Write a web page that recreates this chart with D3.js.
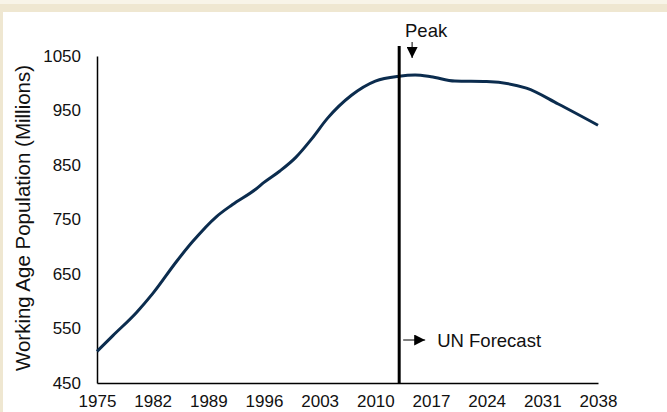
<!DOCTYPE html>
<html>
<head>
<meta charset="utf-8">
<script src="https://cdn.jsdelivr.net/npm/d3@7"></script>
<style>
    body { margin: 0; background: #fff; }
    svg { display: block; font-family: "Liberation Sans", Arial, sans-serif; }
</style>
</head>
<body>
<div id="chart"></div>
<script>
(function() {
    var years = [1975, 1977, 1980, 1982, 1985, 1987, 1990, 1992, 1995, 1996, 1998, 2000,
        2002, 2004, 2007, 2010, 2013, 2015, 2017, 2020, 2024, 2029, 2033, 2038];
    var population = [508, 537, 580, 614, 673, 709, 755, 777, 806, 818, 839, 864,
        898, 936, 978, 1004, 1013, 1015, 1012, 1004, 1003, 991, 962, 923];
    var xTicks = [1975, 1982, 1989, 1996, 2003, 2010, 2017, 2024, 2031, 2038];
    var yTicks = [450, 550, 650, 750, 850, 950, 1050];
    var forecastYear = 2013;
    var peakYear = 2015;

    var width = 667, height = 412;
    var font = "'Liberation Sans', Arial, sans-serif";
    var svg = d3.select("#chart")
        .append("svg")
        .attr("width", width)
        .attr("height", height);

    // beige frame
    svg.append("rect").attr("width", width).attr("height", height).attr("fill", "#efe7d1");
    svg.append("rect").attr("width", width).attr("height", 4).attr("fill", "#f8f4e8");
    svg.append("rect").attr("x", 3).attr("y", 12).attr("width", width - 3).attr("height", height - 12)
        .attr("fill", "#fff");

    var x = d3.scaleLinear().domain([1975, 2038]).range([97, 598]);
    var y = d3.scaleLinear().domain([450, 1050]).range([383, 56]);

    var data = years.map(function(d, i) {
        return { year: d, value: population[i] };
    });

    // axes: lines only, no tick marks
    var xAxis = svg.append("g")
        .attr("transform", "translate(0," + y(450) + ")")
        .call(d3.axisBottom(x).tickValues(xTicks).tickFormat(d3.format("d")).tickSize(0).tickPadding(12));
    var yAxis = svg.append("g")
        .attr("transform", "translate(" + x(1975) + ",0)")
        .call(d3.axisLeft(y).tickValues(yTicks).tickFormat(d3.format("d")).tickSize(0).tickPadding(16));

    [xAxis, yAxis].forEach(function(a) {
        a.select(".domain").attr("stroke", "#000").attr("stroke-width", 1.5);
        a.selectAll("text").attr("font-size", "17px").attr("fill", "#111")
            .attr("font-family", font);
    });

    svg.append("text")
        .attr("transform", "translate(30,218) rotate(-90)")
        .attr("text-anchor", "middle")
        .attr("font-size", "20.5px")
        .attr("fill", "#111")
        .text("Working Age Population (Millions)");

    var line = d3.line()
        .x(function(d) { return x(d.year); })
        .y(function(d) { return y(d.value); })
        .curve(d3.curveMonotoneX);

    svg.append("path")
        .datum(data)
        .attr("fill", "none")
        .attr("stroke", "#0b2c4e")
        .attr("stroke-width", 3)
        .attr("d", line);

    // forecast divider
    svg.append("line")
        .attr("x1", x(forecastYear)).attr("x2", x(forecastYear))
        .attr("y1", 46).attr("y2", y(450))
        .attr("stroke", "#000").attr("stroke-width", 3);

    svg.append("defs").append("marker")
        .attr("id", "head")
        .attr("viewBox", "0 0 10 10")
        .attr("refX", 10).attr("refY", 5)
        .attr("markerWidth", 11).attr("markerHeight", 11)
        .attr("markerUnits", "userSpaceOnUse")
        .attr("orient", "auto")
        .append("path").attr("d", "M0,0L10,5L0,10Z").attr("fill", "#000");

    // peak label
    var px = x(peakYear) - 3;
    svg.append("text")
        .attr("x", px + 14).attr("y", 37)
        .attr("text-anchor", "middle")
        .attr("font-size", "18.5px").attr("fill", "#111")
        .text("Peak");
    svg.append("line")
        .attr("x1", px).attr("x2", px)
        .attr("y1", 42).attr("y2", 58)
        .attr("stroke", "#000").attr("stroke-width", 1)
        .attr("marker-end", "url(#head)");

    // forecast label
    var fy = 340;
    svg.append("line")
        .attr("x1", x(forecastYear) + 4).attr("x2", x(forecastYear) + 26)
        .attr("y1", fy).attr("y2", fy)
        .attr("stroke", "#000").attr("stroke-width", 1)
        .attr("marker-end", "url(#head)");
    svg.append("text")
        .attr("x", x(forecastYear) + 38).attr("y", fy + 7)
        .attr("font-size", "18.5px").attr("fill", "#111")
        .text("UN Forecast");
})();
</script>
</body>
</html>
